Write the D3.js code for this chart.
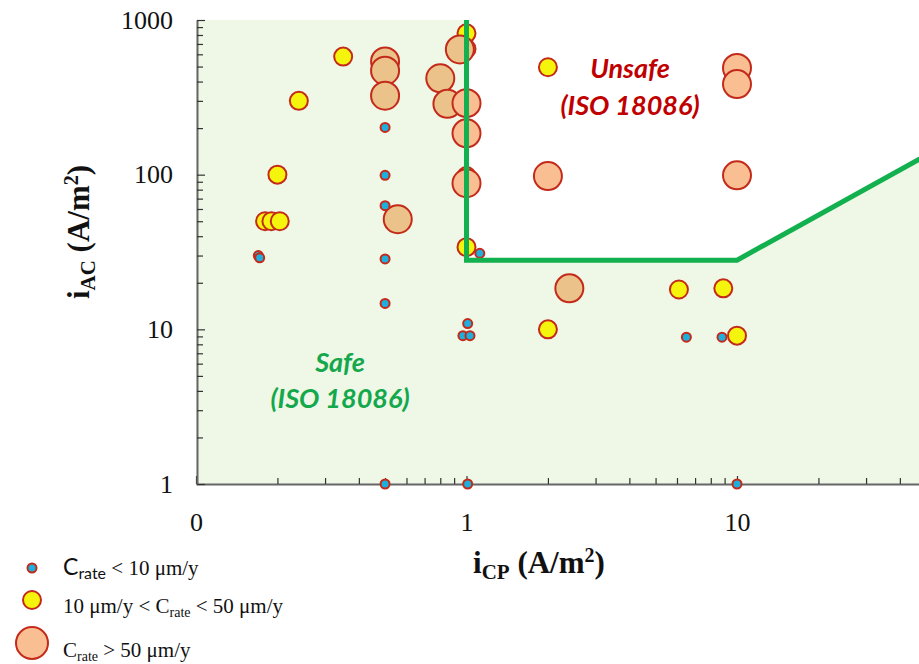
<!DOCTYPE html>
<html>
<head>
<meta charset="utf-8">
<script src="https://cdn.jsdelivr.net/npm/d3@7"></script>
<style>
  body { margin: 0; background: #fff; }
  svg { display: block; }
  .tick text { font-family: "Liberation Serif", serif; font-size: 26px; fill: #111; }
</style>
</head>
<body>
<div id="container"></div>
<script>
// points as [iCP, iAC] in A/m2
const lowRate = [[0.17, 30], [0.172, 29], [0.5, 202], [0.5, 99], [0.5, 63], [0.5, 28.5], [0.5, 14.7], [0.5, 1],
  [1.01, 10.9], [0.97, 9.1], [1.03, 9.1], [1.01, 1], [1.12, 31], [6.5, 8.9], [8.8, 8.9], [10, 1]];
const midRate = [[0.35, 580], [0.24, 300], [0.2, 100], [0.18, 50], [0.19, 50], [0.204, 50], [1.0, 820], [1.0, 650],
  [1.0, 98], [1.0, 34], [2.0, 495], [2.0, 10], [6.1, 18.1], [8.9, 18.4], [10, 9.1]];
const highRateSafe = [[0.5, 540], [0.5, 470], [0.5, 324], [0.8, 420], [0.85, 287], [0.945, 645], [0.557, 51.5], [2.4, 18.4]];
const highRate = [[1.0, 290], [1.0, 185], [1.0, 88], [2.0, 98], [10, 490], [10, 385], [10, 99]];

// ISO 18086 limit
const limitX = [1, 1, 10, 100];
const limitY = [1000, 28, 28, 260];

const xMajor = [0.1, 1, 10, 100];
const xLabels = ['0', '1', '10', ''];
const yMajor = [1, 10, 100, 1000];

const width = 919, height = 664;

const x = d3.scaleLog().domain([0.1, 100]).range([196, 1007.5]);
const y = d3.scaleLog().domain([1, 1000]).range([484, 20]);

const svg = d3.select('#container').append('svg')
  .attr('width', width)
  .attr('height', height);

// safe zone shading
const zone = [[0.1, 1000]].concat(limitX.map((d, i) => [d, limitY[i]]), [[100, 1], [0.1, 1]]);
svg.append('path')
  .attr('d', d3.line().x(d => x(d[0])).y(d => y(d[1]))(zone) + 'Z')
  .attr('fill', '#eff7e6');

// minor ticks 2..9 in each decade
const minors = s => {
  const out = [];
  s.forEach(m => { for (let k = 2; k <= 9; k++) out.push(m * k); });
  return out;
};

svg.append('g')
  .attr('transform', `translate(0, ${y(1)})`)
  .call(d3.axisBottom(x).tickValues(xMajor).tickFormat((d, i) => xLabels[i])
    .tickSize(-8).tickSizeOuter(0).tickPadding(29));
svg.append('g')
  .attr('transform', `translate(0, ${y(1)})`)
  .call(d3.axisBottom(x).tickValues(minors([0.1, 1, 10])).tickFormat('').tickSize(-6).tickSizeOuter(0))
  .select('.domain').remove();

svg.append('g')
  .attr('transform', `translate(${x(0.1) + 1}, 0)`)
  .call(d3.axisLeft(y).tickValues(yMajor).tickFormat(d3.format('d'))
    .tickSize(-8).tickSizeOuter(0).tickPadding(24));
svg.append('g')
  .attr('transform', `translate(${x(0.1) + 1}, 0)`)
  .call(d3.axisLeft(y).tickValues(minors([1, 10, 100])).tickFormat('').tickSize(-6).tickSizeOuter(0))
  .select('.domain').remove();

svg.selectAll('.domain').attr('stroke', '#666').attr('stroke-width', 2);
svg.selectAll('.tick line').attr('stroke', '#333').attr('stroke-width', 1.2);

// markers
const dots = (data, r, fill) => {
  svg.append('g').selectAll('circle')
    .data(data)
    .enter()
    .append('circle')
    .attr('cx', d => x(d[0]))
    .attr('cy', d => y(d[1]))
    .attr('r', r)
    .attr('fill', fill)
    .attr('stroke', '#c42a1a')
    .attr('stroke-width', 2);
};
dots(midRate, 9, '#f4f40c');
dots(highRateSafe, 14, '#ebc28a');
dots(highRate, 14, '#f9be92');
dots(lowRate, 4.5, '#1eb0dc');

// limit line
svg.append('path')
  .attr('d', d3.line().x(d => x(d)).y((d, i) => y(limitY[i]))(limitX))
  .attr('fill', 'none')
  .attr('stroke', '#12b04e')
  .attr('stroke-width', 5);

// zone labels
const zones = svg.append('g')
  .attr('font-family', 'Lato, "Open Sans", sans-serif')
  .attr('font-weight', 'bold')
  .attr('font-style', 'italic')
  .attr('font-size', 27)
  .attr('text-anchor', 'middle');
zones.append('text').attr('x', 340).attr('y', 372).attr('fill', '#14a84c').text('Safe');
zones.append('text').attr('x', 340).attr('y', 408).attr('fill', '#14a84c').text('(ISO 18086)');
zones.append('text').attr('x', 630).attr('y', 78).attr('fill', '#c00000').text('Unsafe');
zones.append('text').attr('x', 630).attr('y', 115).attr('fill', '#c00000').text('(ISO 18086)');

// axis titles
const serif = '"Liberation Serif", "Times New Roman", serif';
const xt = svg.append('text')
  .attr('x', 473).attr('y', 573)
  .attr('font-family', serif).attr('font-weight', 'bold').attr('font-size', 31).attr('fill', '#111');
xt.append('tspan').text('i');
xt.append('tspan').attr('font-size', 21).attr('dy', 6).text('CP');
xt.append('tspan').attr('dy', -6).text(' (A/m');
xt.append('tspan').attr('font-size', 20).attr('dy', -11).text('2');
xt.append('tspan').attr('dy', 11).text(')');

const yt = svg.append('text')
  .attr('transform', 'translate(89, 232) rotate(-90)')
  .attr('text-anchor', 'middle')
  .attr('font-family', serif).attr('font-weight', 'bold').attr('font-size', 31).attr('fill', '#111');
yt.append('tspan').text('i');
yt.append('tspan').attr('font-size', 21).attr('dy', 6).text('AC');
yt.append('tspan').attr('dy', -6).text(' (A/m');
yt.append('tspan').attr('font-size', 20).attr('dy', -11).text('2');
yt.append('tspan').attr('dy', 11).text(')');

// legend
const legend = svg.append('g');
legend.append('circle').attr('cx', 32).attr('cy', 568).attr('r', 4.5)
  .attr('fill', '#1eb0dc').attr('stroke', '#c42a1a').attr('stroke-width', 2);
legend.append('circle').attr('cx', 32).attr('cy', 600).attr('r', 9)
  .attr('fill', '#f4f40c').attr('stroke', '#c42a1a').attr('stroke-width', 2);
legend.append('circle').attr('cx', 32).attr('cy', 643).attr('r', 16)
  .attr('fill', '#f9be92').attr('stroke', '#c42a1a').attr('stroke-width', 2);

const sans = 'Lato, "Open Sans", sans-serif';
const l1 = legend.append('text').attr('x', 63).attr('y', 575)
  .attr('font-family', serif).attr('font-size', 21).attr('fill', '#111');
l1.append('tspan').attr('font-family', sans).attr('font-size', 23).text('C');
l1.append('tspan').attr('font-family', sans).attr('font-size', 16).attr('dy', 4).text('rate');
l1.append('tspan').attr('dy', -4).text(' < 10 μm/y');

const l2 = legend.append('text').attr('x', 63).attr('y', 613)
  .attr('font-family', serif).attr('font-size', 21).attr('fill', '#111');
l2.append('tspan').text('10 μm/y < C');
l2.append('tspan').attr('font-size', 14).attr('dy', 4).text('rate');
l2.append('tspan').attr('dy', -4).text(' < 50 μm/y');

const l3 = legend.append('text').attr('x', 63).attr('y', 657)
  .attr('font-family', serif).attr('font-size', 21).attr('fill', '#111');
l3.append('tspan').text('C');
l3.append('tspan').attr('font-size', 14).attr('dy', 4).text('rate');
l3.append('tspan').attr('dy', -4).text(' > 50 μm/y');
</script>
</body>
</html>
